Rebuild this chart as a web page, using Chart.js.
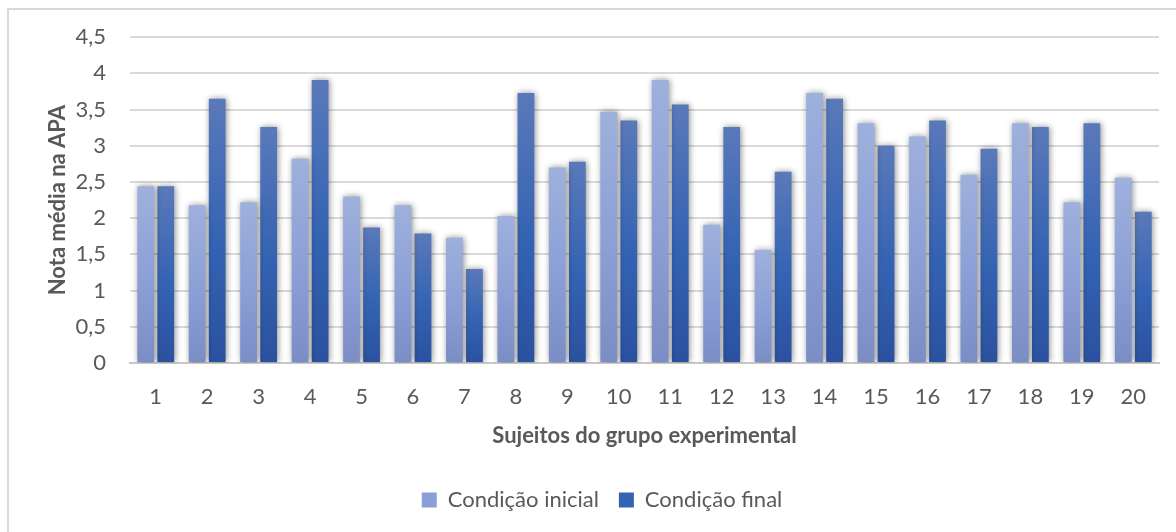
<!DOCTYPE html>
<html lang="pt">
<head>
<meta charset="utf-8">
<title>Nota média na APA</title>
<script src="https://cdn.jsdelivr.net/npm/chart.js@4/dist/chart.umd.min.js"></script>
<style>
    html, body { margin: 0; padding: 0; background: #ffffff; }
    #moldura {
        position: absolute; left: 7px; top: 8px; width: 1200px; height: 560px;
        border-left: 2px solid #d9d9d9; border-top: 2px solid #d9d9d9;
    }
    #zona { position: absolute; left: 0; top: 0; width: 1176px; height: 532px; }
</style>
</head>
<body>
<div id="moldura"></div>
<div id="zona"><canvas id="graficoNotas"></canvas></div>
<script>
// ==========================================================
// DADOS
// ==========================================================
const categorias = ['1','2','3','4','5','6','7','8','9','10','11','12','13','14','15','16','17','18','19','20'];
const notasIniciais = [2.44, 2.18, 2.22, 2.82, 2.30, 2.18, 1.73, 2.03, 2.70, 3.47, 3.91, 1.91, 1.56, 3.73, 3.31, 3.13, 2.60, 3.31, 2.22, 2.56];
const notasFinais   = [2.44, 3.65, 3.26, 3.91, 1.87, 1.79, 1.30, 3.73, 2.78, 3.35, 3.57, 3.26, 2.64, 3.65, 3.00, 3.35, 2.96, 3.26, 3.31, 2.09];
const legendas = ['Condição inicial', 'Condição final'];

// cores do degradê (topo, meio, base)
const coresInicial = ['#9eb0dc', '#8b9fd6', '#7a8dc5'];
const coresFinal   = ['#5a79ba', '#3463b3', '#2a519f'];

const corTexto = '#595959';
const fonteBase = 'Lato, "Open Sans", sans-serif';
const tamanhoFonte = 22;

// ==========================================================
// DEGRADÊ POR BARRA
// ==========================================================
function degradeBarra(cores) {
    return (contexto) => {
        const grafico = contexto.chart;
        if (contexto.type !== 'data' || !grafico.chartArea) return cores[1];
        const escalaY = grafico.scales.y;
        const topo = escalaY.getPixelForValue(contexto.raw);
        const base = escalaY.getPixelForValue(0);
        const g = grafico.ctx.createLinearGradient(0, topo, 0, base);
        g.addColorStop(0, cores[0]);
        g.addColorStop(0.55, cores[1]);
        g.addColorStop(1, cores[2]);
        return g;
    };
}

// sombra suave atrás das colunas
const sombraBarras = {
    id: 'sombraBarras',
    beforeDatasetsDraw(chart) {
        const ctx = chart.ctx;
        ctx.save();
        ctx.shadowColor = 'rgba(0, 0, 0, 0.45)';
        ctx.shadowBlur = 6;
        ctx.shadowOffsetX = 1;
        ctx.shadowOffsetY = 0;
    },
    afterDatasetsDraw(chart) {
        chart.ctx.restore();
    }
};

// ==========================================================
// GRÁFICO
// ==========================================================
const ctx = document.getElementById('graficoNotas').getContext('2d');
new Chart(ctx, {
    type: 'bar',
    data: {
        labels: categorias,
        datasets: [
            {
                label: legendas[0],
                data: notasIniciais,
                backgroundColor: degradeBarra(coresInicial),
                borderWidth: 0,
                categoryPercentage: 0.78,
                barPercentage: 0.835
            },
            {
                label: legendas[1],
                data: notasFinais,
                backgroundColor: degradeBarra(coresFinal),
                borderWidth: 0,
                categoryPercentage: 0.78,
                barPercentage: 0.835
            }
        ]
    },
    options: {
        responsive: true,
        maintainAspectRatio: false,
        animation: false,
        layout: { padding: { left: 45, right: 17, top: 29, bottom: 11 } },
        plugins: {
            tooltip: { enabled: false },
            legend: {
                position: 'bottom',
                labels: {
                    color: corTexto,
                    font: { family: fonteBase, size: tamanhoFonte },
                    boxWidth: 15,
                    boxHeight: 15,
                    padding: 20,
                    generateLabels(chart) {
                        return chart.data.datasets.map((ds, i) => ({
                            text: ds.label,
                            fillStyle: i === 0 ? coresInicial[1] : coresFinal[1],
                            strokeStyle: 'rgba(0,0,0,0)',
                            lineWidth: 0,
                            fontColor: corTexto,
                            datasetIndex: i
                        }));
                    }
                }
            }
        },
        scales: {
            x: {
                afterFit(scale) { scale.height = 106; },
                grid: { display: false, drawTicks: false },
                border: { display: true, color: '#c8c8c8', width: 2 },
                ticks: {
                    color: corTexto,
                    font: { family: fonteBase, size: tamanhoFonte },
                    padding: 21
                },
                title: {
                    display: true,
                    text: 'Sujeitos do grupo experimental',
                    color: corTexto,
                    font: { family: fonteBase, size: tamanhoFonte, weight: 'bold' },
                    padding: { top: 4, bottom: 20 }
                }
            },
            y: {
                min: 0,
                max: 4.5,
                afterFit(scale) { scale.width = 85; },
                grid: { color: '#d9d9d9', lineWidth: 2, drawTicks: false },
                border: { display: false },
                ticks: {
                    stepSize: 0.5,
                    color: corTexto,
                    font: { family: fonteBase, size: tamanhoFonte },
                    padding: 24,
                    callback: (v) => String(v).replace('.', ',')
                },
                title: {
                    display: true,
                    text: 'Nota média na APA',
                    color: corTexto,
                    font: { family: fonteBase, size: tamanhoFonte, weight: 'bold' },
                    padding: 0
                }
            }
        }
    },
    plugins: [sombraBarras]
});
</script>
</body>
</html>
